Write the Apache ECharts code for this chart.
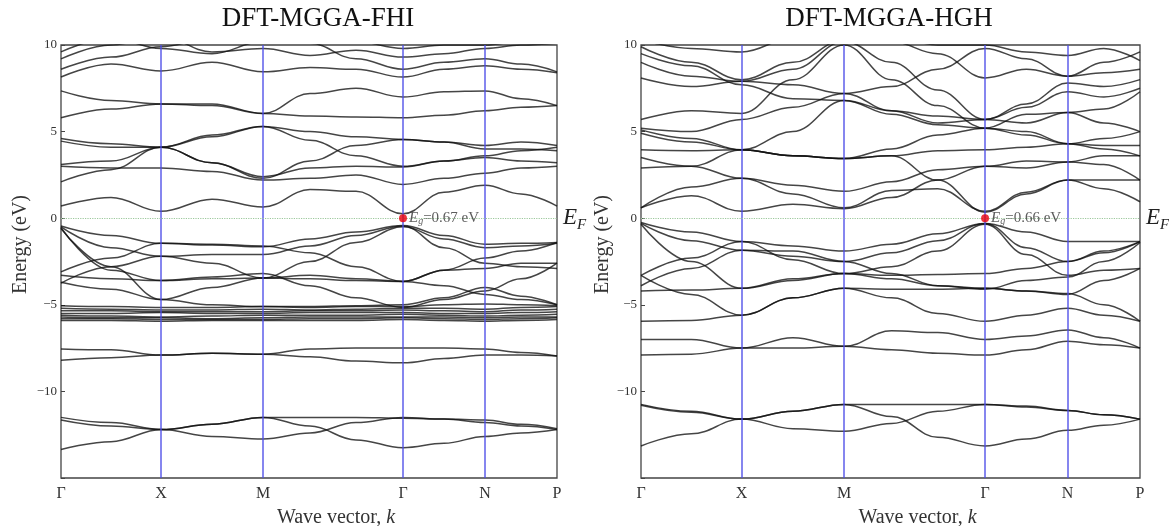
<!DOCTYPE html>
<html>
<head>
<meta charset="utf-8">
<script src="https://cdn.jsdelivr.net/npm/echarts@6/dist/echarts.min.js"></script>
<style>
  html, body { margin: 0; padding: 0; background: #fff; }
  #chart { width: 1169px; height: 526px; }
</style>
</head>
<body>
<div id="chart"></div>
<script>
// k path: sample points along Γ-X-M-Γ-N-P
var K = [0, 0.5, 1.0, 1.51, 2.02, 2.49, 2.95, 3.42, 3.83, 4.24, 4.60, 4.96];
var KP = [0, 1.0, 2.02, 3.42, 4.24, 4.96];
var KNAMES = ['Γ', 'X', 'M', 'Γ', 'N', 'P'];
var TITLES = ['DFT-MGGA-FHI', 'DFT-MGGA-HGH'];
var GAPS = [0.67, 0.66];

// band energies (eV) at K (FHI)
var fhiBands = [
  [8.15, 8.9, 8.5, 9.0, 8.45, 8.7, 8.6, 8.15, 8.6, 8.8, 8.6, 8.4],
  [8.6, 9.3, 9.9, 10.4, 10.6, 10.1, 9.2, 8.6, 9.0, 9.2, 8.9, 8.45],
  [9.2, 10.0, 10.5, 9.6, 9.8, 9.4, 9.7, 9.3, 9.5, 9.8, 10.0, 10.1],
  [9.6, 10.4, 9.8, 9.5, 10.2, 10.5, 10.2, 9.8, 10.0, 10.0, 10.2, 10.4],
  [7.35, 6.8, 6.6, 6.6, 6.05, 7.2, 7.5, 7.0, 7.3, 7.35, 6.9, 6.5],
  [5.8, 6.3, 6.6, 6.5, 6.05, 5.9, 5.85, 5.8, 5.95, 6.2, 6.4, 6.5],
  [4.6, 4.3, 4.1, 4.7, 5.3, 5.0, 4.7, 4.55, 4.4, 4.2, 4.4, 4.2],
  [4.45, 4.1, 4.1, 3.2, 2.3, 3.3, 4.2, 4.55, 4.4, 4.0, 4.0, 3.9],
  [3.1, 3.3, 4.1, 4.8, 5.3, 4.5, 3.6, 3.0, 3.3, 3.6, 3.9, 4.1],
  [3.0, 2.9, 2.9, 2.7, 2.2, 2.3, 2.5, 1.95, 2.3, 2.6, 2.9, 3.0],
  [2.1, 2.8, 4.1, 3.2, 2.4, 2.9, 3.0, 2.95, 3.3, 3.5, 3.3, 3.2],
  [0.7, 1.2, 0.4, 1.1, 0.65, 1.65, 1.55, 0.25, 1.5, 1.9, 1.4, 0.7],
  [-0.45, -1.0, -1.45, -1.55, -1.65, -1.2, -0.8, -0.42, -1.0, -1.5, -1.45, -1.4],
  [-0.5, -1.7, -2.2, -2.1, -2.1, -1.6, -1.0, -0.45, -1.7, -2.6, -2.8, -2.9],
  [-0.55, -3.0, -3.6, -3.5, -3.45, -2.5, -1.4, -0.5, -1.2, -1.7, -1.6, -1.45],
  [-0.6, -2.8, -4.7, -4.0, -3.45, -3.5, -3.6, -3.65, -3.9, -4.4, -4.7, -5.0],
  [-3.1, -2.3, -1.45, -1.5, -1.6, -2.0, -2.8, -3.65, -3.0, -2.3, -1.9, -1.4],
  [-3.75, -2.8, -2.2, -2.6, -3.45, -3.3, -3.5, -3.65, -3.0, -2.9, -2.6, -2.6],
  [-3.3, -3.5, -3.6, -3.4, -3.2, -3.9, -4.6, -5.15, -4.7, -4.2, -3.5, -2.6],
  [-3.7, -4.1, -4.7, -5.0, -5.1, -5.1, -5.05, -5.0, -4.6, -4.0, -4.5, -5.0],
  [-5.05, -5.1, -5.15, -5.15, -5.1, -5.15, -5.1, -5.1, -5.0, -4.95, -5.0, -5.05],
  [-5.2, -5.25, -5.3, -5.3, -5.25, -5.3, -5.25, -5.2, -5.2, -5.25, -5.15, -5.1],
  [-5.35, -5.35, -5.4, -5.4, -5.4, -5.35, -5.35, -5.3, -5.35, -5.4, -5.3, -5.25],
  [-5.5, -5.5, -5.45, -5.5, -5.5, -5.45, -5.45, -5.45, -5.5, -5.5, -5.45, -5.4],
  [-5.6, -5.65, -5.7, -5.65, -5.6, -5.6, -5.6, -5.55, -5.6, -5.65, -5.6, -5.55],
  [-5.7, -5.75, -5.75, -5.8, -5.75, -5.7, -5.7, -5.7, -5.7, -5.75, -5.7, -5.7],
  [-5.8, -5.8, -5.85, -5.85, -5.85, -5.8, -5.8, -5.75, -5.8, -5.85, -5.8, -5.75],
  [-5.9, -5.9, -5.95, -5.9, -5.9, -5.9, -5.9, -5.85, -5.9, -5.95, -5.9, -5.85],
  [-7.55, -7.6, -7.9, -7.8, -7.85, -7.55, -7.5, -7.5, -7.5, -7.55, -7.75, -7.95],
  [-8.2, -8.05, -7.9, -7.8, -7.85, -8.0, -8.25, -8.35, -8.1, -7.9, -7.9, -7.95],
  [-11.5, -11.8, -12.2, -11.9, -11.5, -12.0, -12.8, -13.25, -13.0, -12.6, -12.4, -12.2],
  [-11.65, -12.0, -12.2, -12.6, -12.75, -12.4, -11.8, -11.5, -11.6, -11.8, -12.0, -12.2],
  [-13.35, -12.9, -12.2, -11.9, -11.5, -11.5, -11.5, -11.55, -11.6, -11.65, -11.9, -12.15]
];

// band energies (eV) at K (HGH)
var hghBands = [
  [-10.75, -11.15, -11.6, -11.15, -10.75, -11.45, -12.65, -13.15, -12.75, -12.25, -11.95, -11.6],
  [-10.8, -11.2, -11.6, -12.15, -12.3, -11.85, -11.15, -10.75, -10.85, -11.1, -11.35, -11.6],
  [-13.15, -12.45, -11.6, -11.15, -10.75, -10.75, -10.75, -10.75, -10.9, -11.1, -11.35, -11.6],
  [-7.0, -7.0, -7.5, -6.9, -7.4, -6.5, -6.6, -7.0, -6.8, -6.45, -6.9, -7.5],
  [-7.9, -7.85, -7.5, -7.5, -7.4, -7.6, -7.8, -7.9, -7.6, -7.1, -7.3, -7.5],
  [-5.95, -5.9, -5.6, -4.6, -4.05, -4.6, -5.5, -5.95, -5.6, -5.2, -5.6, -5.95],
  [-3.3, -4.4, -5.6, -4.6, -4.05, -4.1, -4.1, -4.05, -4.2, -4.35, -5.0, -5.95],
  [-0.25, -0.8, -1.35, -1.6, -1.9, -1.5, -0.9, -0.3, -0.8, -1.35, -1.35, -1.35],
  [-0.3, -1.3, -1.85, -2.2, -2.5, -2.0, -1.3, -0.3, -1.7, -2.5, -2.0, -1.35],
  [-0.35, -2.5, -4.05, -3.6, -3.2, -2.8, -1.9, -0.35, -2.1, -3.3, -3.0, -2.9],
  [-3.3, -2.3, -1.35, -2.4, -3.2, -3.3, -3.25, -3.2, -2.9, -2.5, -1.9, -1.35],
  [-3.9, -2.9, -1.85, -1.9, -2.5, -3.2, -3.9, -4.05, -4.2, -4.4, -3.6, -2.9],
  [-4.2, -4.15, -4.05, -3.5, -3.2, -3.5, -3.9, -4.1, -3.6, -3.4, -2.5, -1.4],
  [0.6, 1.3, 0.4, 0.8, 0.55, 1.2, 2.2, 3.0, 3.3, 3.25, 3.1, 2.2],
  [0.6, 1.8, 2.3, 1.4, 0.6, 1.6, 1.7, 0.4, 1.5, 2.2, 1.7, 0.95],
  [2.9, 3.0, 3.95, 3.6, 3.45, 3.6, 2.2, 0.35, 1.4, 2.2, 2.2, 2.2],
  [3.5, 3.0, 2.3, 1.9, 1.55, 2.1, 2.8, 3.0, 2.9, 3.25, 3.6, 3.6],
  [3.95, 3.9, 3.95, 3.6, 3.45, 3.6, 3.9, 3.95, 4.1, 4.3, 4.2, 4.2],
  [4.9, 4.4, 3.95, 3.6, 3.45, 4.0, 4.8, 5.2, 4.8, 4.3, 4.0, 3.6],
  [5.1, 4.6, 3.95, 5.0, 6.8, 6.0, 5.4, 5.2, 5.0, 4.3, 4.6, 5.0],
  [5.2, 5.0, 5.7, 6.4, 7.2, 6.2, 5.5, 5.7, 5.5, 6.1, 5.5, 5.0],
  [5.7, 6.2, 6.05, 8.0, 10.0, 8.0, 6.5, 5.2, 6.0, 6.1, 6.3, 7.3],
  [8.1, 7.6, 7.9, 8.6, 10.2, 9.0, 7.4, 5.7, 6.6, 7.8, 7.6, 8.0],
  [9.0, 8.2, 7.9, 7.7, 7.2, 7.6, 8.6, 9.8, 9.2, 8.2, 8.4, 8.6],
  [9.5, 8.8, 7.7, 6.9, 6.8, 6.2, 5.9, 5.7, 6.4, 7.3, 7.0, 7.5],
  [9.9, 9.0, 8.0, 9.0, 10.3, 10.2, 9.5, 8.1, 8.6, 8.2, 9.0, 9.6],
  [10.3, 9.8, 9.6, 10.4, 10.6, 10.5, 10.0, 10.0, 9.6, 9.4, 9.8, 9.1]
];

(function() {
  var serif = '"Liberation Serif", "DejaVu Serif", serif';
  var ink = '#222';
  var chart = echarts.init(document.getElementById('chart'));

  var grids = [
    { left: 61, right: 612, top: 45, bottom: 48 },
    { left: 641, right: 29, top: 45, bottom: 48 }
  ];

  function kName(v) {
    for (var i = 0; i < KP.length; i++) {
      if (Math.abs(KP[i] - v) < 1e-6) return KNAMES[i];
    }
    return '';
  }

  function bandSeries(bands, gi) {
    return bands.map(function(b) {
      return {
        type: 'line',
        xAxisIndex: gi,
        yAxisIndex: gi,
        data: K.map(function(k, i) { return [k, b[i]]; }),
        smooth: 0.4,
        smoothMonotone: 'x',
        symbol: 'none',
        silent: true,
        z: 3,
        lineStyle: { color: '#111', width: 1.5, opacity: 0.78 }
      };
    });
  }

  var series = [];
  [fhiBands, hghBands].forEach(function(bands, gi) {
    // symmetry lines and Fermi level
    series.push({
      type: 'line',
      xAxisIndex: gi,
      yAxisIndex: gi,
      data: [],
      z: 1,
      silent: true,
      markLine: {
        symbol: 'none',
        silent: true,
        animation: false,
        data: KP.slice(1, 5).map(function(k) {
          return { xAxis: k, lineStyle: { color: '#4b4be8', width: 1.5, type: 'solid', opacity: 0.9 }, label: { show: false } };
        }).concat([{
          yAxis: 0,
          lineStyle: { color: '#9cc89c', width: 1.2, type: 'dotted' },
          label: {
            show: true,
            position: 'end',
            distance: 6,
            formatter: '{e|E}{f|F}',
            rich: {
              e: { fontFamily: serif, fontStyle: 'italic', fontSize: 23, color: ink },
              f: { fontFamily: serif, fontStyle: 'italic', fontSize: 15, color: ink, padding: [14, 0, 0, 0] }
            }
          }
        }])
      }
    });
    series = series.concat(bandSeries(bands, gi));
    // band gap marker at Γ
    series.push({
      type: 'scatter',
      xAxisIndex: gi,
      yAxisIndex: gi,
      data: [[KP[3], 0]],
      symbolSize: 8,
      z: 10,
      silent: true,
      itemStyle: { color: '#e8000b' },
      label: {
        show: true,
        position: 'right',
        distance: 2,
        formatter: '{e|E}{g|g}{t|=' + GAPS[gi].toFixed(2) + ' eV}',
        rich: {
          e: { fontFamily: serif, fontStyle: 'italic', fontSize: 15, color: '#333' },
          g: { fontFamily: serif, fontStyle: 'italic', fontSize: 10, color: '#333', padding: [6, 0, 0, 0] },
          t: { fontFamily: serif, fontSize: 15, color: '#333' }
        }
      }
    });
  });

  var titleStyle = { fontFamily: serif, fontSize: 27, fontWeight: 'normal', color: '#111' };

  chart.setOption({
    animation: false,
    backgroundColor: '#fff',
    title: [
      { text: TITLES[0], left: 313, top: 0, textAlign: 'center', textStyle: titleStyle },
      { text: TITLES[1], left: 884, top: 0, textAlign: 'center', textStyle: titleStyle }
    ],
    grid: grids.map(function(g) {
      return Object.assign({
        show: true, borderColor: '#444', borderWidth: 1.3, backgroundColor: 'transparent',
        containLabel: false, outerBoundsMode: 'none'
      }, g);
    }),
    xAxis: [0, 1].map(function(gi) {
      return {
        type: 'value',
        gridIndex: gi,
        min: 0,
        max: KP[KP.length - 1],
        name: '{a|Wave vector, }{b|k}',
        nameLocation: 'middle',
        nameGap: 30,
        nameTextStyle: {
          padding: [0, 0, 0, 54],
          rich: {
            a: { fontFamily: serif, fontSize: 20, color: '#333' },
            b: { fontFamily: serif, fontSize: 20, fontStyle: 'italic', color: '#333' }
          }
        },
        axisLine: { show: false },
        splitLine: { show: false },
        axisTick: { show: false },
        axisLabel: {
          customValues: KP,
          formatter: kName,
          fontFamily: serif,
          fontSize: 16,
          color: '#333',
          margin: 8
        }
      };
    }),
    yAxis: [0, 1].map(function(gi) {
      return {
        type: 'value',
        gridIndex: gi,
        min: -15,
        max: 10,
        interval: 5,
        name: 'Energy (eV)',
        nameLocation: 'middle',
        nameGap: gi === 0 ? 30 : 24,
        nameTextStyle: { fontFamily: serif, fontSize: 20, color: '#333', padding: [0, 0, 0, 34] },
        axisLine: { show: false },
        splitLine: { show: false },
        axisTick: { show: true, inside: true, length: 4, lineStyle: { color: '#444' } },
        axisLabel: {
          fontFamily: serif,
          fontSize: 13,
          color: '#333',
          margin: 4,
          formatter: function(v) {
            if (v === -15) return '';
            return v < 0 ? '\u2212' + (-v) : String(v);
          }
        }
      };
    }),
    series: series
  });
  window.addEventListener('resize', function() { chart.resize(); });
})();
</script>
</body>
</html>
